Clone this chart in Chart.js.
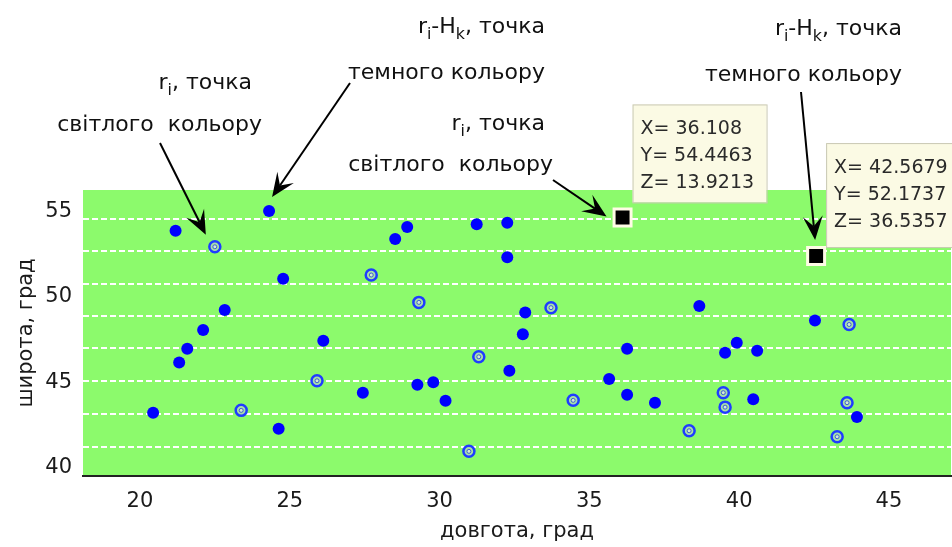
<!DOCTYPE html>
<html>
<head>
<meta charset="utf-8">
<script src="https://cdn.jsdelivr.net/npm/chart.js@4.4.1/dist/chart.umd.min.js"></script>
<style>
  html, body { margin: 0; padding: 0; background: #fff; }
  #wrap { width: 952px; height: 547px; overflow: hidden; }
</style>
</head>
<body>
<div id="wrap"><canvas id="map" width="966" height="547"></canvas></div>
<script>
// tick labels and grid
const xTicks = [20, 25, 30, 35, 40, 45];
const yTicks = [40, 45, 50, 55];
const yGrid = [54.35, 52.45, 50.55, 48.65, 46.75, 44.85, 42.9, 40.95];

// r_i - H_k, dark points
const darkX = [21.19, 24.31, 24.78, 22.83, 22.11, 21.58, 21.31, 20.44, 24.63, 26.12, 27.44,
               28.52, 28.92, 29.26, 29.79, 30.20, 31.24, 32.26, 32.26, 32.33, 32.86, 32.78,
               35.66, 36.26, 36.26, 37.19, 38.67, 39.92, 39.53, 40.60, 40.47, 42.53, 43.93];
const darkY = [53.66, 54.82, 50.84, 49.00, 47.82, 46.72, 45.92, 42.96, 42.02, 47.19, 44.14,
               53.18, 53.88, 44.61, 44.75, 43.66, 54.04, 54.14, 52.10, 45.43, 48.86, 47.57,
               44.94, 46.72, 44.02, 43.55, 49.24, 47.08, 46.49, 46.61, 43.76, 48.38, 42.71];

// r_i, light points
const lightX = [22.50, 27.72, 29.31, 33.72, 43.67, 23.38, 25.91, 31.31, 34.46, 30.98,
                39.47, 39.53, 43.60, 38.33, 43.27];
const lightY = [52.72, 51.06, 49.45, 49.14, 48.15, 43.10, 44.84, 46.25, 43.69, 40.69,
                44.14, 43.29, 43.55, 41.90, 41.55];

// selected points with data tips
const markedX = [36.108, 42.5679];
const markedY = [54.4463, 52.1737];
const markedZ = [13.9213, 36.5357];

const FONT = '"DejaVu Sans", sans-serif';

function pts(xs, ys) {
  return xs.map((x, i) => ({ x: x, y: ys[i] }));
}

function richText(ctx, parts, right, cy, size) {
  let w = 0;
  parts.forEach(p => {
    ctx.font = (p.sub ? size * 0.72 : size) + 'px ' + FONT;
    p.w = ctx.measureText(p.t).width;
    w += p.w;
  });
  let x = right - w;
  ctx.textBaseline = 'middle';
  ctx.textAlign = 'left';
  parts.forEach(p => {
    ctx.font = (p.sub ? size * 0.72 : size) + 'px ' + FONT;
    ctx.fillText(p.t, x, p.sub ? cy + size * 0.38 : cy);
    x += p.w;
  });
}

function arrow(ctx, x1, y1, x2, y2) {
  const ang = Math.atan2(y2 - y1, x2 - x1);
  const len = 24, half = 10, notch = 14;
  ctx.save();
  ctx.strokeStyle = '#000';
  ctx.fillStyle = '#000';
  ctx.lineWidth = 2;
  ctx.beginPath();
  ctx.moveTo(x1, y1);
  ctx.lineTo(x2 - Math.cos(ang) * notch, y2 - Math.sin(ang) * notch);
  ctx.stroke();
  ctx.translate(x2, y2);
  ctx.rotate(ang);
  ctx.beginPath();
  ctx.moveTo(0, 0);
  ctx.lineTo(-len, -half);
  ctx.lineTo(-notch, 0);
  ctx.lineTo(-len, half);
  ctx.closePath();
  ctx.fill();
  ctx.restore();
}

function tipBox(ctx, sx, sy, i, h) {
  const left = sx + 10, top = sy - 113;
  ctx.save();
  ctx.fillStyle = '#fbfae4';
  ctx.strokeStyle = '#c9c9b5';
  ctx.lineWidth = 1;
  ctx.fillRect(left, top, 134, h);
  ctx.strokeRect(left + 0.5, top + 0.5, 134, h);
  ctx.fillStyle = '#2a2a2a';
  ctx.font = '19px ' + FONT;
  ctx.textBaseline = 'middle';
  ctx.textAlign = 'left';
  ctx.fillText('X= ' + markedX[i], left + 8, top + 25);
  ctx.fillText('Y= ' + markedY[i], left + 8, top + 52);
  ctx.fillText('Z= ' + markedZ[i], left + 8, top + 79);
  ctx.restore();
}

const deco = {
  id: 'deco',
  beforeDraw(chart) {
    const { ctx, chartArea: a } = chart;
    ctx.save();
    ctx.fillStyle = '#8cfa6c';
    ctx.fillRect(a.left, a.top, a.right - a.left, a.bottom - a.top);
    ctx.restore();
  },
  afterDraw(chart) {
    const ctx = chart.ctx;
    const sx = chart.scales.x, sy = chart.scales.y;
    const px = v => sx.getPixelForValue(v);
    const py = v => sy.getPixelForValue(v);

    // data tips
    tipBox(ctx, px(markedX[0]), py(markedY[0]), 0, 98);
    tipBox(ctx, px(markedX[1]), py(markedY[1]), 1, 104);

    // labels
    ctx.save();
    ctx.fillStyle = '#111';
    richText(ctx, [{ t: 'r' }, { t: 'i', sub: true }, { t: ', точка' }], 252, 83, 22);
    richText(ctx, [{ t: 'світлого  кольору' }], 262, 125, 22);
    richText(ctx, [{ t: 'r' }, { t: 'i', sub: true }, { t: '-H' }, { t: 'k', sub: true }, { t: ', точка' }], 545, 27, 22);
    richText(ctx, [{ t: 'темного кольору' }], 545, 73, 22);
    richText(ctx, [{ t: 'r' }, { t: 'i', sub: true }, { t: ', точка' }], 545, 124, 22);
    richText(ctx, [{ t: 'світлого  кольору' }], 553, 165, 22);
    richText(ctx, [{ t: 'r' }, { t: 'i', sub: true }, { t: '-H' }, { t: 'k', sub: true }, { t: ', точка' }], 902, 29, 22);
    richText(ctx, [{ t: 'темного кольору' }], 902, 75, 22);
    ctx.restore();

    // arrows to the points
    arrow(ctx, 160, 143, px(lightX[0]) - 9, py(lightY[0]) - 12);
    arrow(ctx, 350, 83, px(darkX[1]) + 3, py(darkY[1]) - 14);
    arrow(ctx, 553, 180, px(markedX[0]) - 16, py(markedY[0]) - 1);
    arrow(ctx, 801, 92, px(markedX[1]) - 1, py(markedY[1]) - 16);
  }
};

const ctx = document.getElementById('map').getContext('2d');
new Chart(ctx, {
  type: 'scatter',
  data: {
    datasets: [
      {
        label: 'marked',
        data: pts(markedX, markedY),
        pointStyle: 'rect',
        pointRadius: 12,
        backgroundColor: '#000',
        borderColor: '#fffbe6',
        borderWidth: 3
      },
      {
        label: 'light inner',
        data: pts(lightX, lightY),
        pointRadius: 2,
        backgroundColor: '#d6ead6',
        borderColor: '#3a5ad8',
        borderWidth: 1
      },
      {
        label: 'light',
        data: pts(lightX, lightY),
        pointRadius: 5.5,
        backgroundColor: '#a8e2a6',
        borderColor: '#1f3cff',
        borderWidth: 2.5
      },
      {
        label: 'dark',
        data: pts(darkX, darkY),
        pointRadius: 6,
        backgroundColor: '#0000ff',
        borderWidth: 0
      }
    ]
  },
  options: {
    responsive: false,
    animation: false,
    layout: { padding: { top: 190, right: 0, bottom: 0, left: 0 } },
    plugins: {
      legend: { display: false },
      tooltip: { enabled: false }
    },
    scales: {
      x: {
        type: 'linear',
        min: 18.1,
        max: 47.07,
        afterBuildTicks: s => { s.ticks = xTicks.map(v => ({ value: v })); },
        afterFit: s => { s.height = 71; },
        grid: { display: false, drawTicks: false },
        border: { display: true, color: '#222', width: 2 },
        ticks: { padding: 13, color: '#1a1a1a', font: { family: FONT, size: 21 } },
        title: {
          display: true,
          text: 'довгота, град',
          color: '#1a1a1a',
          padding: { top: 0, bottom: 3 },
          font: { family: FONT, size: 21 }
        }
      },
      yg: {
        type: 'linear',
        position: 'left',
        min: 39.24,
        max: 56.06,
        afterBuildTicks: s => { s.ticks = yGrid.map(v => ({ value: v })); },
        afterFit: s => { s.width = 0; },
        ticks: { display: false },
        grid: { drawTicks: false, color: '#ffffff', lineWidth: 2 },
        border: { display: false, dash: [6, 3] }
      },
      y: {
        type: 'linear',
        position: 'left',
        min: 39.24,
        max: 56.06,
        afterBuildTicks: s => { s.ticks = yTicks.map(v => ({ value: v })); },
        afterFit: s => { s.width = 83; },
        grid: { display: false, drawTicks: false },
        border: { display: false },
        ticks: { padding: 11, labelOffset: 4, color: '#1a1a1a', font: { family: FONT, size: 21 } },
        title: {
          display: true,
          text: 'широта, град',
          color: '#1a1a1a',
          padding: 14,
          font: { family: FONT, size: 21 }
        }
      }
    }
  },
  plugins: [deco]
});
</script>
</body>
</html>
